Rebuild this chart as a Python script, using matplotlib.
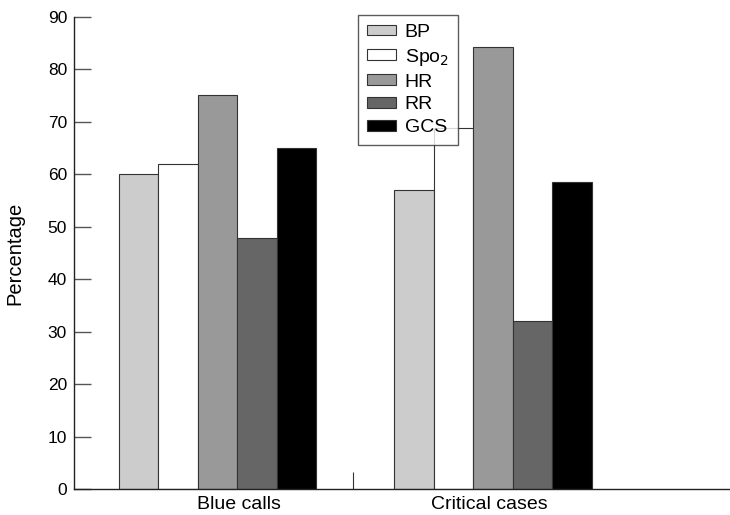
import numpy as np
import matplotlib.pyplot as plt

# datos
groups = ['Blue calls', 'Critical cases']
series = ['BP', 'Spo$_2$', 'HR', 'RR', 'GCS']
bp = [60, 57]
spo2 = [62, 68.8]
hr = [75.2, 84.3]
rr = [47.8, 32]
gcs = [65, 58.5]
colors = ['#cccccc', '#ffffff', '#999999', '#666666', '#000000']

values = [bp, spo2, hr, rr, gcs]

plt.rcParams['font.family'] = ['Liberation Sans', 'DejaVu Sans']

fig = plt.figure(figsize=(7.3, 5.15), dpi=100)
ax = fig.add_axes([74 / 730, 1 - 489 / 515, 656 / 730, 472 / 515])

x = np.arange(len(groups))
w = 0.1435
for i, (name, vals) in enumerate(zip(series, values)):
    ax.bar(x + (i - 2) * w, vals, w, color=colors[i], edgecolor='#333333',
           linewidth=0.8, label=name)

ax.set_xlim(-0.521, 1.86)
ax.set_ylim(0, 90)
ax.set_yticks(range(0, 91, 10))
ax.tick_params(axis='y', direction='in', length=12, width=1, color='#555555',
               labelsize=12.5, pad=5)
# las etiquetas del eje x no estan centradas en los grupos
ax.set_xticks([0.078, 0.987])
ax.set_xticklabels(groups, fontsize=14)
ax.tick_params(axis='x', length=0, pad=5)
ax.set_xticks([0.49], minor=True)
ax.tick_params(axis='x', which='minor', direction='in', length=12, width=0.8,
               color='#333333')

for s in ['top', 'right']:
    ax.spines[s].set_visible(False)
for s in ['left', 'bottom']:
    ax.spines[s].set_color('#222222')
    ax.spines[s].set_linewidth(1)

ax.set_ylabel('Percentage', fontsize=14.5)
ax.yaxis.set_label_coords(-0.075, 0.5)

leg = ax.legend(loc='upper left', bbox_to_anchor=((358 - 74) / 656, 1.004),
                frameon=True, fancybox=False, edgecolor='#333333', fontsize=14,
                handlelength=1.5, handleheight=0.47, labelspacing=0.3,
                borderpad=0.45, handletextpad=0.46, borderaxespad=0)
leg.get_frame().set_linewidth(1)

fig.savefig('out.png', dpi=100)
